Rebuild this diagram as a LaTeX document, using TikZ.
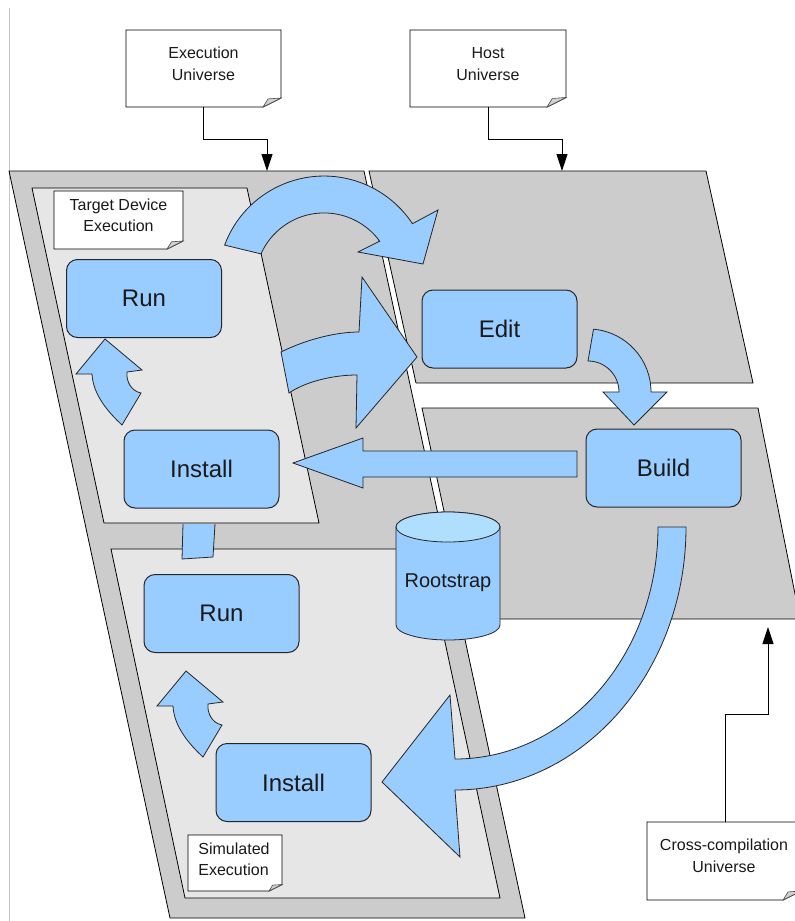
\documentclass[tikz,border=0pt]{standalone}
\usepackage{fontspec}
\setmainfont{Liberation Sans}
\usetikzlibrary{arrows.meta}
\definecolor{blu}{HTML}{99CCFF}
\definecolor{blutop}{HTML}{B0DEFF}
\definecolor{pgray}{HTML}{CCCCCC}
\definecolor{plight}{HTML}{E6E6E6}
\definecolor{txt}{HTML}{1A1A1A}
\newcommand\notebox[5]{%
  \draw[notefr] (#1,#2) -- (#3,#2) -- (#3,{#4-#5/2}) -- ({#3-#5},#4) -- (#1,#4) -- cycle;
  \draw[notefold] ({#3-#5},#4) -- ({#3-#5*0.72},{#4-#5*0.45}) -- (#3,{#4-#5/2}) -- cycle;
}
\begin{document}
\begin{tikzpicture}[x=1pt,y=-1pt,
  panel/.style={draw=black, line width=0.8pt, fill=pgray, line join=round},
  innerpanel/.style={draw=black, line width=0.8pt, fill=plight, line join=round},
  blk/.style={draw=black!85, line width=1pt, fill=blu, rounded corners=11pt,
    minimum width=155pt, minimum height=78pt, font=\fontsize{24}{28}\selectfont,
    text=txt, inner sep=0pt},
  barrow/.style={draw=black!85, line width=0.8pt, fill=blu, line join=miter},
  notefr/.style={draw=black, line width=0.9pt, fill=white},
  notefold/.style={draw=black!70, line width=0.6pt, fill=black!18},
  notetxt/.style={font=\fontsize{16}{21.5}\selectfont, text=txt, align=center, inner sep=0pt},
  conn/.style={draw=black, line width=0.9pt, -{Triangle[length=17pt,width=11pt]}},
]
\useasboundingbox (0,0) rectangle (795,921);
\clip (0,0) rectangle (795,921);
\fill[white] (0,0) rectangle (795,921);
\draw[black!22, line width=1pt] (9,8) -- (9,921);

% universes
\draw[panel] (369,171) -- (706,171) -- (753,383) -- (416,383) -- cycle;
\draw[panel] (422,408) -- (758,408) -- (800,619) -- (467,619) -- cycle;
\draw[panel] (9,171) -- (364,171) -- (525,918) -- (170,918) -- cycle;
\draw[innerpanel] (32,188) -- (247,188) -- (319,523) -- (104,523) -- cycle;
\draw[innerpanel] (111,549) -- (425,549) -- (500,898) -- (185,898) -- cycle;

% rootstrap
\draw[barrow] (396,527) -- (396,625) arc[start angle=180, end angle=0, x radius=52, y radius=15]
  -- (500,527) arc[start angle=0, end angle=-180, x radius=52, y radius=15] -- cycle;
\draw[barrow, fill=blutop] (448,527) ellipse[x radius=52, y radius=15];
\node[font=\fontsize{20}{24}\selectfont, text=txt] (root) at (448,583) {Rootstrap};

% steps
\node[blk] (run1) at (144,298.5) {Run};
\node[blk] (inst1) at (201.5,469) {Install};
\node[blk] (edit) at (499.5,329) {Edit};
\node[blk] (build) at (663.5,468) {Build};
\node[blk] (run2) at (221.5,613.5) {Run};
\node[blk] (inst2) at (293.5,782.5) {Install};

% block arrows
\draw[barrow] (224.6,245.1) arc[start angle=200.4, end angle=326.6, radius=106]
  -- (438,210) -- (423,264) -- (358,252) -- (379.7,241.2)
  arc[start angle=323.8, end angle=204, radius=69] -- cycle;
\draw[barrow] (281,352) .. controls (305,340) and (335,332) .. (359,332) -- (362,277)
  -- (417,357) -- (356,428) -- (357,375) .. controls (332,375) and (305,382) .. (289,393) -- cycle;
\draw[barrow] (593.5,329.2) arc[start angle=275, end angle=360, radius=63] -- (667,392)
  -- (634,425) -- (603,392) -- (619,392) arc[start angle=0, end angle=-90, radius=31] -- cycle;
\draw[barrow] (577,451) -- (363,451) -- (363,438) -- (293,463) -- (363,488) -- (363,477) -- (577,477) -- cycle;
\foreach \sx/\sy in {105/339, 186/671}{
  \draw[barrow, shift={(\sx,\sy)}] (0,0) -- (37,31) -- (22,33) .. controls (21,42) and (26,52) .. (36,54)
    -- (17,86) .. controls (4,74) and (-12,56) .. (-13,35) -- (-29,35) -- cycle;
}
\fill[blu] (183,524) -- (182,559) -- (213,557) -- (215,524) -- cycle;
\draw[barrow, fill=none] (183,524) -- (182,559) -- (213,557) -- (215,524);
\draw[barrow] (686,527) -- (658,527) arc[start angle=0, end angle=90, x radius=203, y radius=232]
  -- (450,695) -- (382,782) -- (460,857) -- (455,790)
  arc[start angle=90, end angle=0, x radius=231, y radius=263] -- cycle;

% notes
\notebox{126}{30}{281}{107}{18}
\notebox{410}{30}{566}{107}{19}
\notebox{54}{191}{183}{249}{16}
\notebox{188}{835}{282}{891}{13}
\notebox{647}{822}{801}{900}{18}
\node[notetxt] (exec) at (203.5,64) {Execution\\Universe};
\node[notetxt] (host) at (488,64) {Host\\Universe};
\node[notetxt] (target) at (118.5,215.5) {Target Device\\Execution};
\node[notetxt, align=left] (sim) at (234,859.5) {Simulated\\Execution};
\node[notetxt] (cross) at (724,856) {Cross-compilation\\Universe};

% connectors
\coordinate (execout) at (203,107);
\coordinate (execin) at (267,171);
\coordinate (hostout) at (488,107);
\coordinate (hostin) at (562,171);
\coordinate (crossout) at (725,822);
\coordinate (crossin) at (768,627);
\draw[conn] (execout) -- ++(0,32) -| (execin);
\draw[conn] (hostout) -- ++(0,32) -| (hostin);
\draw[conn] (crossout) -- ++(0,-108) -| (crossin);
\end{tikzpicture}
\end{document}
